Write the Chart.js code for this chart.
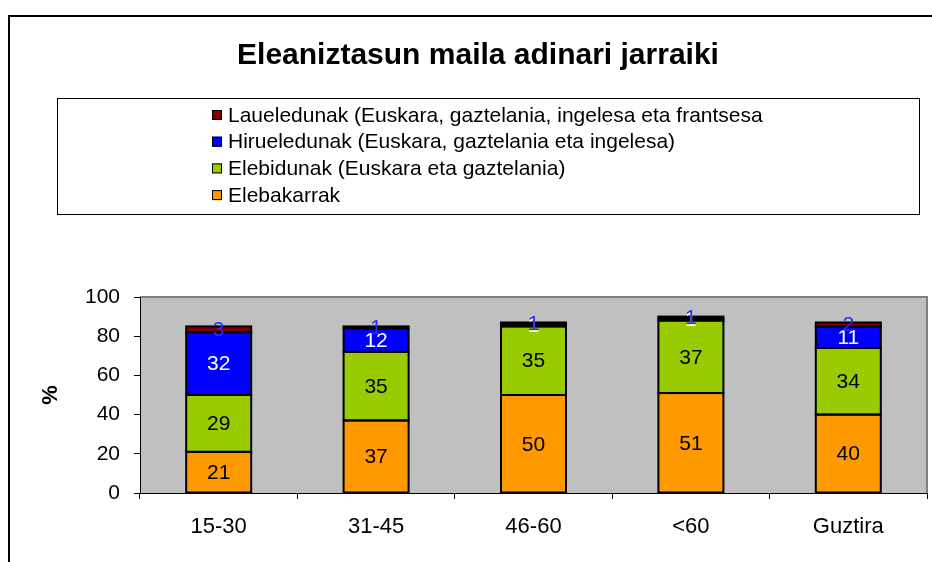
<!DOCTYPE html>
<html lang="eu">
<head>
<meta charset="UTF-8" />
<title>Eleaniztasun maila adinari jarraiki</title>
<script src="https://cdn.jsdelivr.net/npm/chart.js"></script>
<style>
  body { margin: 0; overflow: hidden; background: #fff; }
  #wrap { width: 932px; height: 562px; position: relative; }
</style>
</head>
<body>
<div id="wrap"><canvas id="chart" width="932" height="562"></canvas></div>
<script>
  // data
  const categories = ['15-30', '31-45', '46-60', '<60', 'Guztira'];
  const elebakarrak = [21, 37, 50, 51, 40];
  const elebidunak = [29, 35, 35, 37, 34];
  const hirueledunak = [32, 12, 1, 1, 11];
  const laueledunak = [3, 1, 1, 1, 2];
  const yTicks = [0, 20, 40, 60, 80, 100];

  const chartTitle = 'Eleaniztasun maila adinari jarraiki';
  const seriesNames = [
    'Elebakarrak',
    'Elebidunak (Euskara eta gaztelania)',
    'Hirueledunak (Euskara, gaztelania eta ingelesa)',
    'Laueledunak (Euskara, gaztelania, ingelesa eta frantsesa'
  ];
  const seriesColors = ['#ff9900', '#99cc00', '#0000ff', '#800000'];
  const labelColors = ['#000000', '#000000', '#ffffff', '#2a2aff'];
  const FONT = 'Arial, "Liberation Sans", sans-serif';

  // background, frame, title, legend box, grey plot area
  const decor = {
    id: 'decor',
    beforeDraw(chart) {
      const ctx = chart.ctx;
      const a = chart.chartArea;
      ctx.save();
      ctx.fillStyle = '#fff';
      ctx.fillRect(0, 0, chart.width, chart.height);

      ctx.strokeStyle = '#000';
      ctx.lineWidth = 2;
      ctx.beginPath();
      ctx.moveTo(9, chart.height);
      ctx.lineTo(9, 16);
      ctx.lineTo(chart.width, 16);
      ctx.stroke();

      ctx.fillStyle = '#000';
      ctx.font = 'bold 30px ' + FONT;
      ctx.textAlign = 'center';
      ctx.textBaseline = 'middle';
      ctx.fillText(chartTitle, 478, 56);

      // legend, top entry = last dataset
      ctx.textAlign = 'left';
      ctx.lineWidth = 1;
      ctx.strokeRect(57.5, 98.5, 862, 116);
      ctx.font = '21px ' + FONT;
      const ds = chart.data.datasets;
      for (let k = 0; k < ds.length; k++) {
        const i = ds.length - 1 - k;
        const y = 115 + k * 26.7;
        ctx.fillStyle = seriesColors[i];
        ctx.fillRect(212, y - 5, 10, 10);
        ctx.strokeStyle = '#000';
        ctx.strokeRect(212.5, y - 4.5, 9, 9);
        ctx.fillStyle = '#000';
        ctx.fillText(ds[i].label, 228, y + 1);
      }

      ctx.fillStyle = '#c0c0c0';
      ctx.fillRect(a.left, a.top, a.right - a.left, a.bottom - a.top);
      ctx.strokeStyle = '#808080';
      ctx.lineWidth = 2;
      ctx.beginPath();
      ctx.moveTo(a.left, a.top);
      ctx.lineTo(a.right, a.top);
      ctx.lineTo(a.right, a.bottom);
      ctx.stroke();
      ctx.restore();
    }
  };

  // black outlines centred on the segment edges, then the value labels
  const segLabels = {
    id: 'segLabels',
    afterDatasetsDraw(chart) {
      const ctx = chart.ctx;
      ctx.save();
      ctx.strokeStyle = '#000';
      ctx.lineWidth = 2;
      chart.data.datasets.forEach((d, i) => {
        chart.getDatasetMeta(i).data.forEach((bar) => {
          const w = bar.width;
          ctx.strokeRect(bar.x - w / 2, bar.y, w, bar.base - bar.y);
        });
      });
      ctx.font = '21px ' + FONT;
      ctx.textAlign = 'center';
      ctx.textBaseline = 'middle';
      chart.data.datasets.forEach((d, i) => {
        ctx.fillStyle = labelColors[i];
        chart.getDatasetMeta(i).data.forEach((bar, j) => {
          const v = d.data[j];
          if (v == null) return;
          ctx.fillText(String(v), bar.x, (bar.y + bar.base) / 2 + 1);
        });
      });
      ctx.restore();
    }
  };

  const allSeries = [elebakarrak, elebidunak, hirueledunak, laueledunak];

  new Chart(document.getElementById('chart'), {
    type: 'bar',
    data: {
      labels: categories,
      datasets: allSeries.map((vals, i) => ({
        label: seriesNames[i],
        data: vals,
        backgroundColor: seriesColors[i],
        borderWidth: 0,
        barPercentage: 0.413,
        categoryPercentage: 1
      }))
    },
    options: {
      responsive: false,
      animation: false,
      events: [],
      layout: { padding: { left: 0, right: 5, top: 297, bottom: 0 } },
      plugins: {
        legend: { display: false },
        tooltip: { enabled: false },
        title: { display: false }
      },
      scales: {
        x: {
          stacked: true,
          offset: true,
          grid: { offset: true, drawOnChartArea: false, drawTicks: true, tickLength: 6, color: '#000' },
          border: { color: '#000', width: 1 },
          ticks: { color: '#000', font: { family: FONT, size: 22 }, padding: 15 },
          afterFit(s) { s.height = 69; }
        },
        y: {
          stacked: true,
          min: 0,
          max: 100,
          afterBuildTicks(s) { s.ticks = yTicks.map(v => ({ value: v })); },
          grid: { drawOnChartArea: false, drawTicks: true, tickLength: 6, color: '#000' },
          border: { color: '#000', width: 1 },
          ticks: { color: '#000', font: { family: FONT, size: 21 }, padding: 14 },
          title: {
            display: true,
            text: '%',
            color: '#000',
            font: { family: FONT, size: 22, weight: 'bold' },
            padding: { top: 38, bottom: 0 }
          },
          afterFit(s) { s.width = 140; }
        }
      }
    },
    plugins: [decor, segLabels]
  });
</script>
</body>
</html>
